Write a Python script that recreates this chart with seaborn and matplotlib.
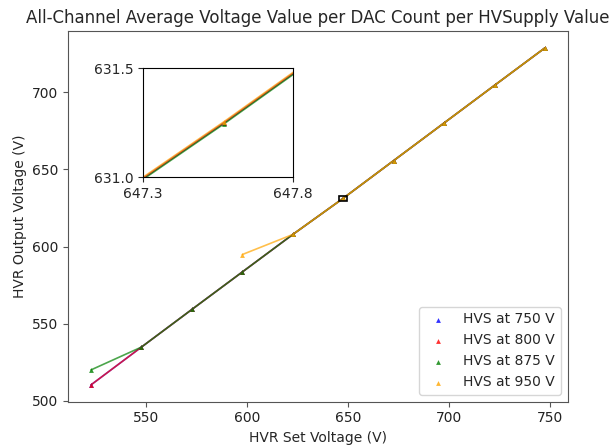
import matplotlib
matplotlib.use("Agg")
import matplotlib.pyplot as plt
import numpy as np
import pandas as pd
import seaborn as sns
from matplotlib.patches import Rectangle

# set voltages (V)
set_v = [522.6, 547.6, 572.6, 597.6, 622.6, 647.57, 672.6, 697.6, 722.6, 747.6]
set_v_950 = set_v[3:]

# measured output voltages per HV supply setting
out_750 = [510.3, 534.8, 559.2, 583.5, 607.8, 631.25, 655.7, 680.1, 704.5, 728.8]
out_800 = [510.3, 534.8, 559.2, 583.5, 607.8, 631.25, 655.7, 680.1, 704.5, 728.8]
out_875 = [520.0, 534.8, 559.2, 583.5, 607.8, 631.245, 655.7, 680.1, 704.5, 728.8]
out_950 = [594.8, 607.8, 631.255, 655.7, 680.1, 704.5, 728.8]

labels = ["HVS at 750 V", "HVS at 800 V", "HVS at 875 V", "HVS at 950 V"]
colors = ["blue", "red", "green", "orange"]
series = [(set_v, out_750), (set_v, out_800), (set_v, out_875), (set_v_950, out_950)]

# zoom window
zoom_x = (647.3, 647.8)
zoom_y = (631.0, 631.5)

sns.set_style("ticks")
plt.rcParams["font.family"] = ["DejaVu Sans"]

fig = plt.figure(figsize=(6.12, 4.48), dpi=100)
ax = fig.add_axes([0.1116, 0.1033, 0.816, 0.8275])
axins = fig.add_axes([0.234, 0.604, 0.244, 0.2435])


def draw(a, with_labels):
    for (xs, ys), lab, col in zip(series, labels, colors):
        df = pd.DataFrame({"x": xs, "y": ys})
        sns.lineplot(data=df, x="x", y="y", color=col, alpha=0.7, lw=1.2,
                     sort=False, legend=False, ax=a)
        sns.scatterplot(data=df, x="x", y="y", color=col, marker="^", s=12,
                        alpha=0.8, linewidth=0, label=lab if with_labels else None,
                        ax=a, zorder=3)


draw(ax, True)
draw(axins, False)

ax.set_xlabel("HVR Set Voltage (V)")
ax.set_ylabel("HVR Output Voltage (V)")
ax.set_title("All-Channel Average Voltage Value per DAC Count per HVSupply Value")
ax.set_xticks([550, 600, 650, 700, 750])
ax.set_yticks([500, 550, 600, 650, 700])
for sp in ax.spines.values():
    sp.set_color("#555555")
ax.tick_params(colors="#555555", labelcolor="#222222")
ax.legend(loc="lower right", frameon=True)

axins.set_xlim(*zoom_x)
axins.set_ylim(*zoom_y)
axins.set_xticks(list(zoom_x))
axins.set_yticks(list(zoom_y))
axins.set_xticklabels([f"{v:.1f}" for v in zoom_x])
axins.set_yticklabels([f"{v:.1f}" for v in zoom_y])
axins.set_xlabel("")
axins.set_ylabel("")
for sp in axins.spines.values():
    sp.set_color("black")

# box marking the zoomed spot on the main axes
cx, cy = np.mean(zoom_x), np.mean(zoom_y)
ax.add_patch(Rectangle((cx - 2, cy - 1.8), 4, 3.6, fill=False,
                       edgecolor="black", lw=1.2, zorder=5))

fig.savefig("out.png", dpi=100)
